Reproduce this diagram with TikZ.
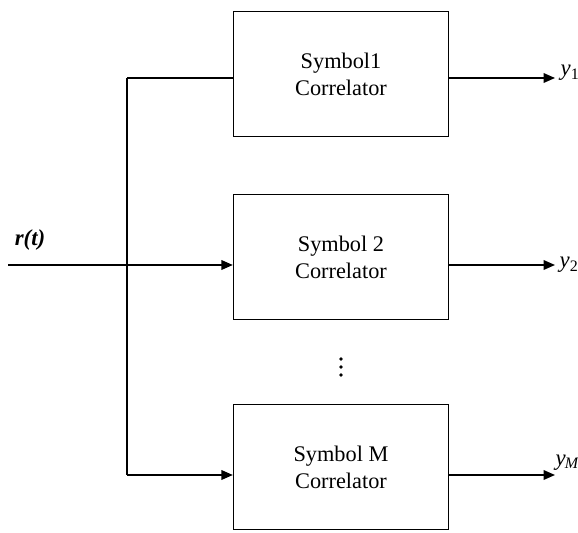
\documentclass[tikz,border=0pt]{standalone}
\usepackage{fontspec}
\setmainfont{Liberation Serif}
\usetikzlibrary{arrows.meta,positioning,calc}

\begin{document}
\begin{tikzpicture}[x=0.02cm, y=-0.02cm, line width=0.8pt, >={Triangle[length=6.5pt,width=5.5pt]},
    font=\fontsize{12.7}{15.3}\selectfont,
    corr/.style={draw, minimum width=4.3cm, minimum height=2.5cm, align=center},
    outlbl/.style={anchor=west, inner sep=0pt, font=\fontsize{13}{15}\selectfont}]
  \useasboundingbox (0,0) rectangle (578,533);
  % ---------------- correlator boxes ----------------
  \node[corr] (sym1) at (341,74)  {Symbol1\\ Correlator};
  \node[corr] (sym2) at (341,257) {Symbol 2\\ Correlator};
  \node[corr] (symM) at (341,467) {Symbol M\\ Correlator};
  \foreach \d in {359,367,375} \fill (341,\d) circle (1pt);
  % ---------------- input and bus ----------------
  \coordinate (in) at (8,265);
  \coordinate (busT) at (127,78);
  \coordinate (busB) at (127,475);
  \node[font=\fontsize{13}{15}\selectfont\itshape\bfseries, inner sep=0pt] (rt) at (30,240) {r(t)};
  \draw[->] (in) -- (in -| sym2.west);
  \draw (busT) -- (busB);
  \draw (busT) -- (busT -| sym1.west);
  \draw[->] (busB) -- (busB -| symM.west);
  % ---------------- outputs ----------------
  \coordinate (o1) at (555,78);
  \coordinate (o2) at (555,265);
  \coordinate (oM) at (555,475);
  \draw[->] (o1 -| sym1.east) -- (o1);
  \draw[->] (o2 -| sym2.east) -- (o2);
  \draw[->] (oM -| symM.east) -- (oM);
  \node[outlbl] (y1) at ($(o1)+(5,-5)$) {\textit{y}\textsubscript{1}};
  \node[outlbl] (y2) at ($(o2)+(4,0)$) {\textit{y}\textsubscript{2}};
  \node[outlbl] (yM) at ($(oM)+(0,-12)$) {\textit{y}\kern-0.5pt\textsubscript{\textit{M}}};
\end{tikzpicture}
\end{document}
